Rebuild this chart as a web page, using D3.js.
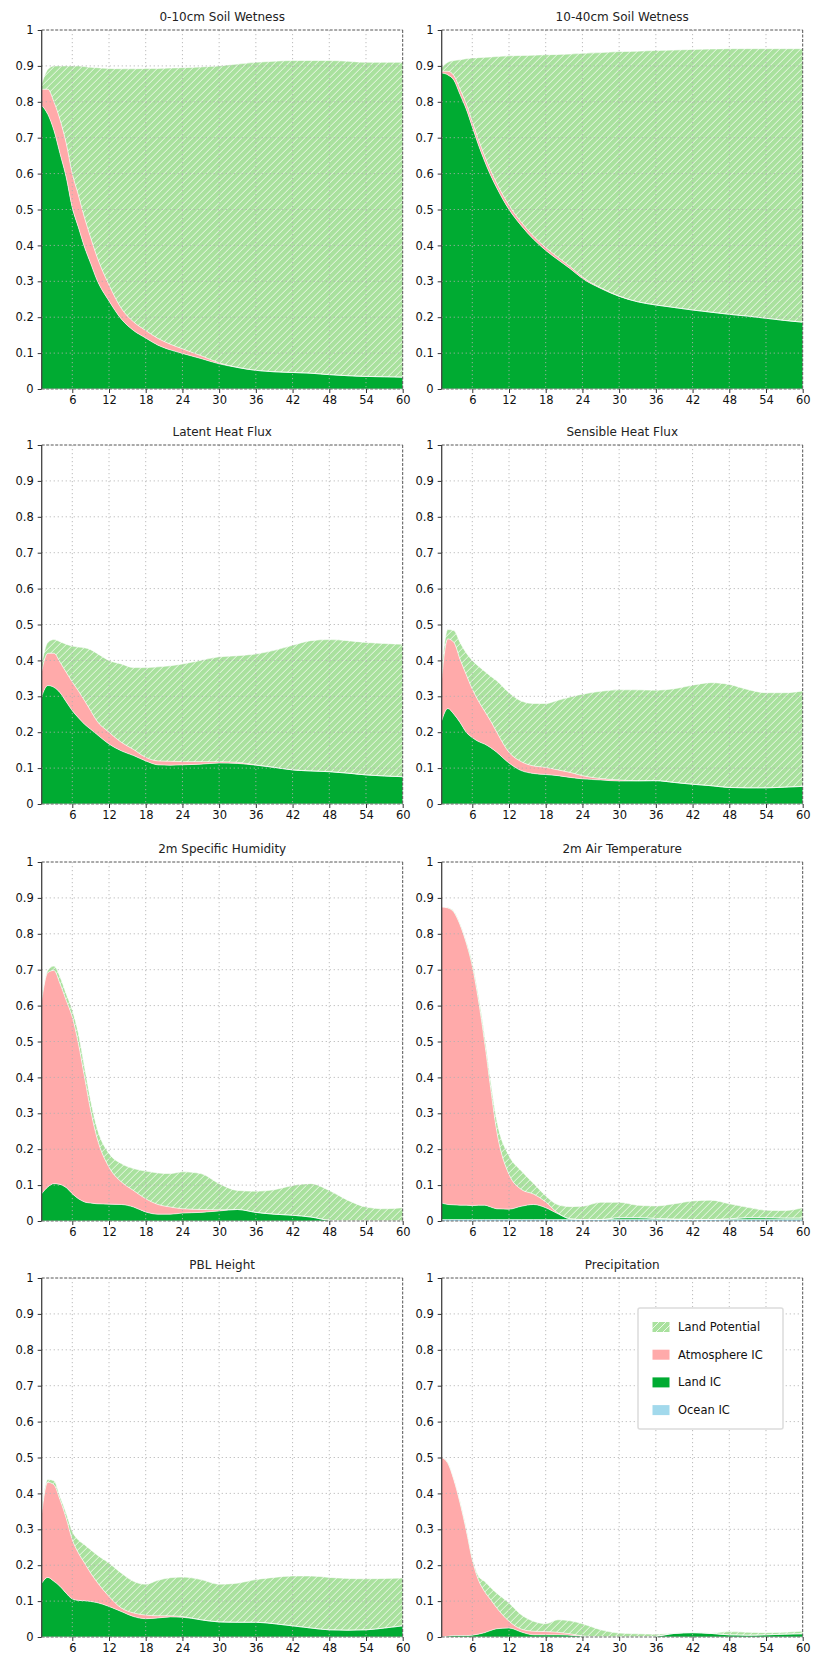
<!DOCTYPE html>
<html>
<head>
<meta charset="utf-8">
<script src="https://cdn.jsdelivr.net/npm/d3@7/dist/d3.min.js"></script>
<style>
  html, body { margin: 0; padding: 0; background: #fff; }
  svg { display: block; font-family: "DejaVu Sans", sans-serif; }
</style>
</head>
<body>
<svg id="chart" width="817" height="1658"></svg>
<script>
// ---------------- DATA ----------------
const hours = [1,2,3,4,5,6,7,8,9,10,12,14,16,18,20,22,24,27,30,33,36,39,42,45,48,51,54,57,60];
const xTicks = [6,12,18,24,30,36,42,48,54,60];
const yTicks = [0,0.1,0.2,0.3,0.4,0.5,0.6,0.7,0.8,0.9,1];
const yTickLabels = ["0","0.1","0.2","0.3","0.4","0.5","0.6","0.7","0.8","0.9","1"];
const seriesNames = ["Land Potential","Atmosphere IC","Land IC","Ocean IC"];
const panelTitles = ["0-10cm Soil Wetness","10-40cm Soil Wetness","Latent Heat Flux","Sensible Heat Flux",
                     "2m Specific Humidity","2m Air Temperature","PBL Height","Precipitation"];

const zeros = hours.map(() => 0);

// 0-10cm Soil Wetness
const sw010_ocean = zeros;
const sw010_land = [.79,.765,.72,.655,.59,.505,.45,.395,.35,.305,.245,.195,.163,.142,.122,.109,.099,.085,.07,.06,.052,.048,.046,.044,.04,.037,.035,.034,.033];
const sw010_atm  = [.045,.07,.08,.095,.095,.095,.09,.082,.072,.065,.045,.03,.024,.021,.019,.016,.013,.008,.003,0,0,0,0,0,0,0,0,0,0];
const sw010_pot  = [.015,.055,.10,.15,.215,.30,.36,.421,.474,.525,.603,.667,.705,.73,.752,.769,.783,.804,.827,.845,.858,.865,.869,.871,.875,.876,.875,.876,.877];

// 10-40cm Soil Wetness
const sw1040_ocean = zeros;
const sw1040_land = [.88,.875,.86,.82,.78,.73,.68,.635,.595,.56,.50,.455,.417,.386,.36,.335,.308,.28,.258,.243,.234,.227,.22,.214,.208,.203,.197,.191,.186];
const sw1040_atm  = [.005,.01,.013,.015,.015,.015,.015,.015,.014,.013,.012,.01,.009,.008,.007,.006,.004,.002,.001,0,0,0,0,0,0,0,0,0,0];
const sw1040_pot  = [.01,.025,.042,.082,.125,.177,.228,.274,.316,.353,.416,.464,.504,.537,.565,.592,.623,.655,.681,.698,.709,.717,.726,.733,.74,.745,.751,.757,.762];

// Latent Heat Flux
const lhf_ocean = zeros;
const lhf_land = [.30,.33,.325,.31,.285,.26,.24,.222,.208,.194,.167,.148,.135,.12,.109,.108,.109,.111,.114,.113,.108,.102,.095,.092,.09,.086,.081,.078,.076];
const lhf_atm  = [.07,.09,.095,.085,.082,.08,.075,.066,.052,.038,.033,.024,.017,.01,.011,.011,.009,.007,.004,.003,.001,0,0,0,0,0,0,0,0];
const lhf_pot  = [.02,.03,.038,.057,.078,.10,.122,.147,.17,.188,.20,.218,.228,.25,.262,.266,.272,.282,.292,.297,.309,.326,.347,.363,.368,.369,.369,.369,.369];

// Sensible Heat Flux
const shf_ocean = zeros;
const shf_land = [.232,.266,.25,.227,.20,.185,.174,.167,.157,.144,.114,.093,.085,.082,.079,.074,.07,.067,.064,.064,.065,.06,.055,.051,.046,.045,.045,.047,.049];
const shf_atm  = [.118,.194,.20,.176,.161,.135,.113,.092,.074,.056,.03,.025,.021,.02,.016,.014,.009,.004,.003,.001,0,0,0,0,0,0,0,0,0];
const shf_pot  = [.02,.026,.033,.047,.06,.08,.097,.111,.125,.143,.166,.169,.174,.178,.194,.21,.227,.243,.251,.253,.252,.261,.276,.287,.287,.274,.265,.263,.266];

// 2m Specific Humidity
const q2m_ocean = zeros;
const q2m_land = [.076,.095,.104,.102,.093,.076,.062,.053,.05,.048,.047,.046,.039,.025,.019,.019,.022,.024,.028,.032,.024,.019,.016,.011,.002,0,0,0,0];
const q2m_atm  = [.539,.597,.594,.559,.522,.492,.432,.348,.258,.186,.103,.063,.046,.037,.027,.02,.012,.008,.003,0,0,0,0,0,0,0,0,0,0];
const q2m_pot  = [.01,.006,.012,.019,.018,.019,.028,.028,.028,.028,.038,.051,.061,.077,.088,.093,.103,.10,.073,.053,.059,.068,.083,.093,.083,.058,.039,.034,.037];

// 2m Air Temperature
const t2m_ocean = [.004,.004,.004,.004,.004,.004,.004,.004,.004,.004,.004,.004,.004,.004,.004,.004,.004,.004,.004,.004,.004,.004,.004,.004,.004,.004,.004,.004,.004];
const t2m_land = [.046,.042,.041,.04,.04,.039,.04,.04,.035,.03,.029,.037,.042,.033,.016,.002,0,0,.005,.005,.003,.001,0,0,.002,.005,.005,.004,.004];
const t2m_atm  = [.825,.826,.815,.781,.731,.667,.571,.456,.331,.216,.097,.047,.029,.016,.002,0,0,0,0,0,0,0,0,0,0,0,0,0,0];
const t2m_pot  = [0,.001,.002,.003,.005,.01,.013,.018,.02,.03,.052,.052,.03,.017,.023,.034,.037,.048,.043,.035,.035,.043,.052,.054,.042,.029,.021,.021,.029];

// PBL Height
const pbl_ocean = zeros;
const pbl_land = [.15,.166,.155,.141,.122,.106,.102,.101,.099,.096,.085,.071,.057,.051,.053,.056,.055,.048,.042,.041,.041,.037,.031,.025,.02,.019,.02,.025,.031];
const pbl_atm  = [.195,.265,.269,.241,.209,.165,.132,.105,.079,.058,.028,.01,.01,.01,.006,.003,.002,0,0,0,0,0,0,0,0,0,0,0,0];
const pbl_pot  = [.009,.008,.011,.009,.014,.023,.036,.051,.065,.075,.093,.097,.088,.086,.099,.106,.11,.112,.105,.109,.119,.129,.139,.145,.146,.144,.142,.138,.133];

// Precipitation
const pr_ocean = zeros;
const pr_land = [0,.002,.004,.004,.004,.005,.008,.012,.018,.023,.025,.014,.006,.006,.006,.005,.002,0,0,0,.002,.01,.012,.01,.006,.005,.006,.008,.009];
const pr_atm  = [.5,.482,.433,.369,.294,.21,.151,.115,.086,.058,.019,.008,.01,.009,.007,.004,.001,0,0,0,0,0,0,0,0,0,0,0,0];
const pr_pot  = [0,.002,.003,.005,.007,.007,.011,.028,.034,.041,.051,.04,.028,.022,.035,.036,.034,.02,.011,.009,.006,.001,.001,.001,.009,.008,.006,.005,.007];

const panelData = [
  [sw010_ocean, sw010_land, sw010_atm, sw010_pot],
  [sw1040_ocean, sw1040_land, sw1040_atm, sw1040_pot],
  [lhf_ocean, lhf_land, lhf_atm, lhf_pot],
  [shf_ocean, shf_land, shf_atm, shf_pot],
  [q2m_ocean, q2m_land, q2m_atm, q2m_pot],
  [t2m_ocean, t2m_land, t2m_atm, t2m_pot],
  [pbl_ocean, pbl_land, pbl_atm, pbl_pot],
  [pr_ocean, pr_land, pr_atm, pr_pot]
];

// ---------------- LAYOUT / STYLE ----------------
const colX = [41.7, 441.7];
const rowY = [30, 445, 862, 1278];
const pw = 361, ph = 359;
const colors = { ocean: "#a2d9ec", land: "#00ab32", atm: "#ffaaaa", potBg: "#a9e19e" };

const svg = d3.select("#chart");
const defs = svg.append("defs");
const pat = defs.append("pattern").attr("id", "hatch")
  .attr("patternUnits", "userSpaceOnUse").attr("width", 7).attr("height", 7);
pat.append("rect").attr("width", 7).attr("height", 7).attr("fill", colors.potBg);
pat.append("path").attr("d", "M-1,1 L1,-1 M0,7 L7,0 M6,8 L8,6")
  .attr("stroke", "#f4fbf2").attr("stroke-width", 1).attr("stroke-opacity", 0.9);

const keys = ["ocean","land","atm","pot"];
const fills = { ocean: colors.ocean, land: colors.land, atm: colors.atm, pot: "url(#hatch)" };

const x = d3.scaleLinear().domain([1, 60]).range([0, pw]);
const y = d3.scaleLinear().domain([0, 1]).range([ph, 0]);

panelData.forEach((arrs, i) => {
  const col = i % 2, row = Math.floor(i / 2);
  const g = svg.append("g").attr("transform", `translate(${colX[col]},${rowY[row]})`);

  const rows = hours.map((h, j) => ({ x: h, ocean: arrs[0][j], land: arrs[1][j], atm: arrs[2][j], pot: arrs[3][j] }));
  const stacked = d3.stack().keys(keys)(rows);

  defs.append("clipPath").attr("id", "clip" + i)
    .append("rect").attr("width", pw).attr("height", ph);

  const plot = g.append("g").attr("clip-path", `url(#clip${i})`);

  const area = d3.area().x(d => x(d.data.x)).y0(d => y(d[0])).y1(d => y(d[1])).curve(d3.curveMonotoneX);
  const topLine = d3.line().x(d => x(d.data.x)).y(d => y(d[1])).curve(d3.curveMonotoneX);

  plot.selectAll("path.layer").data(stacked).join("path")
    .attr("class", "layer")
    .attr("fill", s => fills[s.key])
    .attr("d", area);

  plot.selectAll("path.edge").data(stacked).join("path")
    .attr("class", "edge")
    .attr("fill", "none").attr("stroke", "#ffffff").attr("stroke-width", 0.7).attr("stroke-opacity", 0.85)
    .attr("d", topLine);

  // grid (drawn on top, dotted)
  const grid = g.append("g").attr("stroke", "#b0b0b0").attr("stroke-width", 1)
    .attr("stroke-dasharray", "1.2,2.8").attr("stroke-opacity", 0.85);
  grid.selectAll("line.vx").data(xTicks.filter(t => t < 60)).join("line")
    .attr("x1", d => x(d)).attr("x2", d => x(d)).attr("y1", 0).attr("y2", ph);
  grid.selectAll("line.hy").data(yTicks.filter(t => t > 0 && t < 1)).join("line")
    .attr("x1", 0).attr("x2", pw).attr("y1", d => y(d)).attr("y2", d => y(d));

  // spines
  g.append("line").attr("x1", 0).attr("x2", pw).attr("y1", 0).attr("y2", 0)
    .attr("stroke", "#555").attr("stroke-width", 1).attr("stroke-dasharray", "3,1.5");
  g.append("line").attr("x1", pw).attr("x2", pw).attr("y1", 0).attr("y2", ph)
    .attr("stroke", "#555").attr("stroke-width", 1).attr("stroke-dasharray", "3,1.5");
  g.append("line").attr("x1", 0).attr("x2", pw).attr("y1", ph).attr("y2", ph)
    .attr("stroke", "#666").attr("stroke-width", 1).attr("stroke-dasharray", "3,1.5");

  // axes
  const xAxis = d3.axisBottom(x).tickValues(xTicks).tickSize(4).tickPadding(3).tickFormat(d3.format("d"));
  const xg = g.append("g").attr("transform", `translate(0,${ph})`).call(xAxis);
  xg.select(".domain").remove();
  xg.selectAll("line").attr("stroke", "#333");
  xg.selectAll("text").attr("font-size", "11.5px").attr("fill", "#111").attr("font-family", "DejaVu Sans");

  const yAxis = d3.axisLeft(y).tickValues(yTicks).tickSize(4).tickPadding(4).tickFormat((d, k) => yTickLabels[k]);
  const yg = g.append("g").call(yAxis);
  yg.select(".domain").attr("stroke", "#444").attr("stroke-width", 1.3).attr("d", `M0,${ph}V0`);
  yg.selectAll("line").attr("stroke", "#333");
  yg.selectAll("text").attr("font-size", "11.5px").attr("fill", "#111").attr("font-family", "DejaVu Sans");

  g.append("text").attr("x", pw / 2).attr("y", -9).attr("text-anchor", "middle")
    .attr("font-size", "12px").attr("fill", "#222").text(panelTitles[i]);
});

// ---------------- LEGEND ----------------
const lg = svg.append("g").attr("transform", "translate(638,1308)");
lg.append("rect").attr("x", 0).attr("y", 0).attr("width", 145).attr("height", 121).attr("rx", 2)
  .attr("fill", "#fff").attr("stroke", "#dcdcdc").attr("stroke-width", 1.5);
const legendFills = ["url(#hatch)", colors.atm, colors.land, colors.ocean];
seriesNames.forEach((name, k) => {
  const cy = 19 + k * 27.7;
  lg.append("rect").attr("x", 14.5).attr("y", cy - 5).attr("width", 17).attr("height", 10).attr("fill", legendFills[k]);
  lg.append("text").attr("x", 40).attr("y", cy).attr("dy", "0.35em")
    .attr("font-size", "11.5px").attr("fill", "#111").text(name);
});
</script>
</body>
</html>
